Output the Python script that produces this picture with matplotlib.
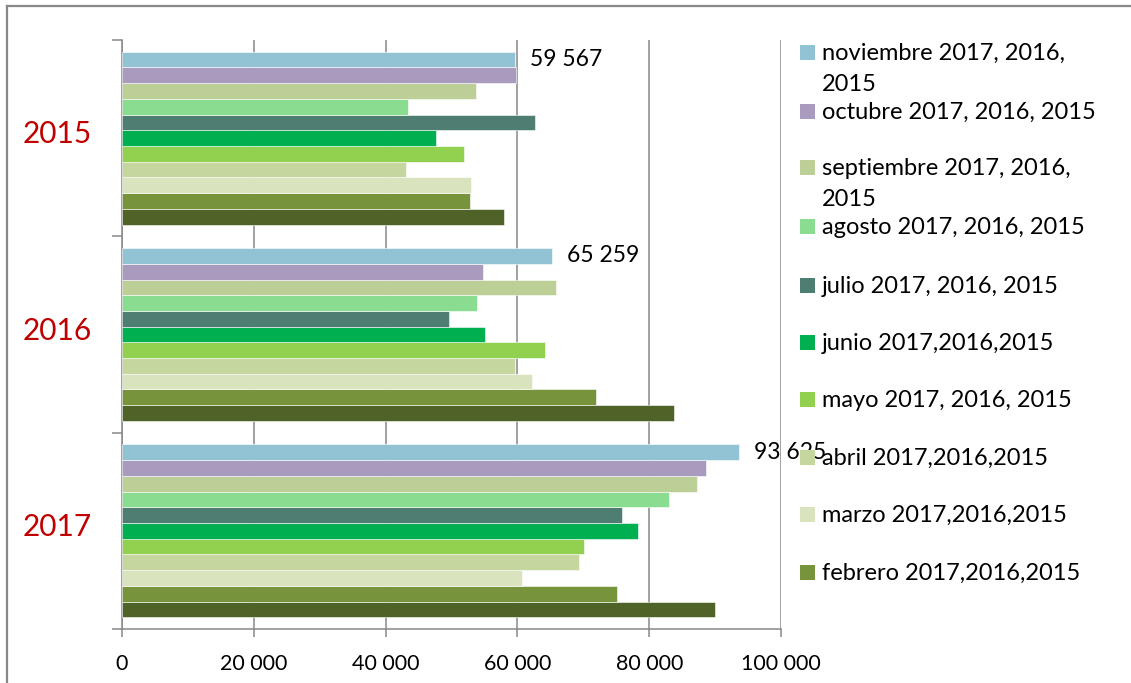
import matplotlib
matplotlib.use("Agg")
import matplotlib.pyplot as plt
from matplotlib.patches import Rectangle
from matplotlib.transforms import blended_transform_factory
import numpy as np

plt.rcParams['font.family'] = ['Lato', 'DejaVu Sans']

# ---- data ----
groups = ['2017', '2016', '2015']  # bottom to top
months = ['enero', 'febrero', 'marzo', 'abril', 'mayo', 'junio',
          'julio', 'agosto', 'septiembre', 'octubre', 'noviembre']
legend_labels = ['enero 2017,2016,2015',
                 'febrero 2017,2016,2015',
                 'marzo 2017,2016,2015',
                 'abril 2017,2016,2015',
                 'mayo 2017, 2016, 2015',
                 'junio 2017,2016,2015',
                 'julio 2017, 2016, 2015',
                 'agosto 2017, 2016, 2015',
                 'septiembre 2017, 2016,\n2015',
                 'octubre 2017, 2016, 2015',
                 'noviembre 2017, 2016,\n2015']
# values in order [2017, 2016, 2015]
enero      = [89950, 83780, 57900]
febrero    = [75120, 71970, 52800]
marzo      = [60690, 62200, 52900]
abril      = [69320, 59640, 43100]
mayo       = [70050, 64120, 51860]
junio      = [78350, 55150, 47600]
julio      = [75910, 49690, 62700]
agosto     = [83030, 53930, 43400]
septiembre = [87310, 65860, 53700]
octubre    = [88630, 54800, 59830]
noviembre  = [93625, 65259, 59567]
series = [enero, febrero, marzo, abril, mayo, junio, julio, agosto,
          septiembre, octubre, noviembre]
colors = ['#4F6228', '#77933C', '#D9E4BF', '#C5D79E', '#92D050', '#00AF50',
          '#4E7D71', '#8ADD90', '#BBCF97', '#A99BBD', '#92C3D5']
xticks = [0, 20000, 40000, 60000, 80000, 100000]
xtick_labels = ['0', '20 000', '40 000', '60 000', '80 000', '100 000']

W, H = 1131, 683
fig = plt.figure(figsize=(W / 100, H / 100), dpi=100)
ax = fig.add_axes([122 / W, (H - 629) / H, 659 / W, 589 / H])

bar_h = 0.08
n = len(series)
base = np.arange(len(groups))
for i, (vals, col) in enumerate(zip(series, colors)):
    ypos = base + (i - (n - 1) / 2) * bar_h
    ax.barh(ypos, vals, height=bar_h, color=col, edgecolor='white',
            linewidth=0.4, zorder=3)
    if months[i] == 'noviembre':
        for y, v in zip(ypos, vals):
            ax.annotate(f"{v:,}".replace(',', ' '), (v, y), xytext=(11, 0),
                        textcoords='offset points', va='center', ha='left',
                        fontsize=16.5, color='black', zorder=2)

ax.set_xlim(0, 100000)
ax.set_ylim(-0.5, 2.5)
grey = '#888888'
ax.set_xticks(xticks)
ax.set_xticklabels(xtick_labels, fontsize=15.5)
ax.set_yticks([-0.5, 0.5, 1.5, 2.5])
ax.set_yticklabels([])
ax.tick_params(axis='x', direction='out', length=6, width=1.1, color=grey, pad=12)
ax.tick_params(axis='y', direction='out', length=7, width=1.1, color=grey)
ax.xaxis.grid(True, color=grey, linewidth=1.1, zorder=0)
ax.set_axisbelow(True)
for s in ['top', 'right']:
    ax.spines[s].set_visible(False)
for s in ['left', 'bottom']:
    ax.spines[s].set_color(grey)
    ax.spines[s].set_linewidth(1.1)

# year labels
tr = blended_transform_factory(fig.transFigure, ax.transData)
for y, g in zip(base, groups):
    ax.text(57 / W, y + 0.02, g, transform=tr, ha='center', va='center',
            fontsize=21.5, color='#C00000')

# outer frame (left and top)
fig.add_artist(plt.Line2D([6.5 / W, 6.5 / W], [0, (H - 6) / H],
                          transform=fig.transFigure, color=grey, lw=1.6))
fig.add_artist(plt.Line2D([6.5 / W, 1], [(H - 6) / H, (H - 6) / H],
                          transform=fig.transFigure, color=grey, lw=1.6))

# legend (manual, top-down: noviembre .. febrero; enero is clipped)
first_line_y = [52, 111, 167, 226, 285, 342, 399, 457, 514, 572]
order = list(range(n - 1, 0, -1))
for k, idx in enumerate(order):
    yc = first_line_y[k]
    fig.add_artist(Rectangle((800 / W, (H - yc - 7.5) / H), 15 / W, 15 / H,
                             transform=fig.transFigure, facecolor=colors[idx],
                             edgecolor='none', zorder=10))
    for j, line in enumerate(legend_labels[idx].split('\n')):
        fig.text(822 / W, (H - yc - 8 - 31 * j) / H, line, ha='left',
                 va='baseline', fontsize=17, color='black', zorder=10)

fig.savefig('out.png', dpi=100)
